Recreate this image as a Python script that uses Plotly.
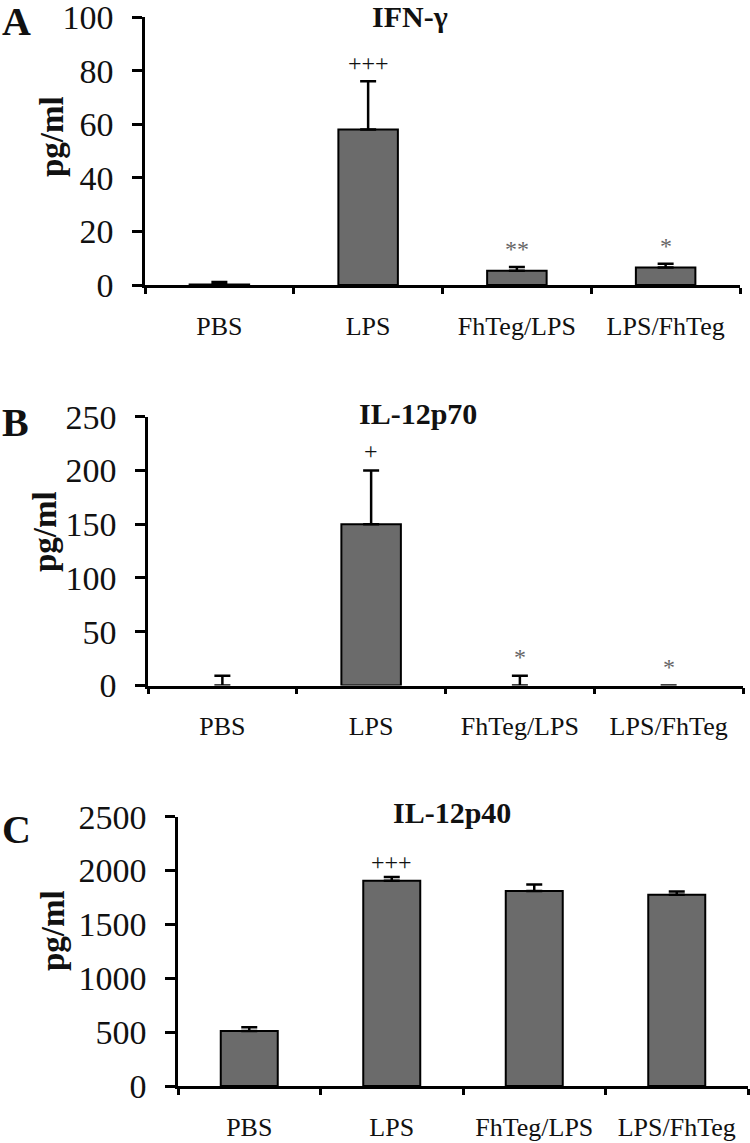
import plotly.graph_objects as go

# ---- data ----
CATEGORIES = ["PBS", "LPS", "FhTeg/LPS", "LPS/FhTeg"]

IFNG_MEAN = [0.2, 58.0, 5.3, 6.5]
IFNG_SEM = [0.9, 18.0, 1.4, 1.4]
IFNG_MARKS = ["", "+++", "**", "*"]
IFNG_TICKS = [0, 20, 40, 60, 80, 100]

P70_MEAN = [0.0, 150.0, 0.0, 0.0]
P70_SEM = [9.0, 50.0, 9.0, 0.0]
P70_MARKS = ["", "+", "*", "*"]
P70_TICKS = [0, 50, 100, 150, 200, 250]

P40_MEAN = [510.0, 1905.0, 1810.0, 1775.0]
P40_SEM = [35.0, 35.0, 60.0, 30.0]
P40_MARKS = ["", "+++", "", ""]
P40_TICKS = [0, 500, 1000, 1500, 2000, 2500]

# ---- style ----
W, H = 750, 1143
SERIF = "Liberation Serif, Times New Roman, serif"
INK = "#111111"
BAR_GREY = "#6b6b6b"
STAR_GREY = "#666666"

# pixel geometry of each panel: axis left/right, y of zero and of top tick
PANELS = [
    dict(letter="A", title="IFN-γ", mean=IFNG_MEAN, sem=IFNG_SEM, marks=IFNG_MARKS,
         ticks=IFNG_TICKS, x0=145, x1=740, y0=285, y1=17,
         title_xy=(410, 16), letter_y=22, ylab_xy=(52, 137), mark_shift=3),
    dict(letter="B", title="IL-12p70", mean=P70_MEAN, sem=P70_SEM, marks=P70_MARKS,
         ticks=P70_TICKS, x0=148, x1=743, y0=685.5, y1=416.7,
         title_xy=(418, 413), letter_y=422, ylab_xy=(45, 532), mark_shift=4),
    dict(letter="C", title="IL-12p40", mean=P40_MEAN, sem=P40_SEM, marks=P40_MARKS,
         ticks=P40_TICKS, x0=178, x1=748, y0=1086, y1=816.7,
         title_xy=(452, 812), letter_y=829, ylab_xy=(53, 931), mark_shift=0),
]


def px(x):
    return x / W


def py(y):
    return 1 - y / H


fig = go.Figure()
annotations = []

for i, p in enumerate(PANELS, start=1):
    xa, ya = f"x{i}", f"y{i}"
    # zero-height bars get no outline and zero errors no whisker,
    # so nothing shows above the axis line there
    outline = [2 if v else 0 for v in p["mean"]]
    whisker = [e if e else None for e in p["sem"]]
    fig.add_bar(
        x=CATEGORIES, y=p["mean"], xaxis=xa, yaxis=ya, width=0.4,
        marker={"color": BAR_GREY, "line": {"color": "black", "width": outline}},
        error_y={"type": "data", "array": whisker, "arrayminus": [0] * len(whisker),
                 "symmetric": False, "color": "black", "thickness": 2.5, "width": 8},
        hoverinfo="skip",
    )
    axis_common = dict(showline=True, linecolor="black", linewidth=2.5, showgrid=False,
                       zeroline=False, ticks="outside", tickcolor="black", tickwidth=2.5,
                       automargin=False, ticklabeloverflow="allow")
    fig.layout[f"xaxis{i}"] = dict(
        axis_common, anchor=ya, domain=[px(p["x0"]), px(p["x1"])], type="category",
        range=[-0.5, len(CATEGORIES) - 0.5], tickson="boundaries", ticklen=6,
        tickfont={"family": SERIF, "size": 26, "color": INK}, ticklabelstandoff=16,
    )
    fig.layout[f"yaxis{i}"] = dict(
        axis_common, anchor=xa, domain=[py(p["y0"]), py(p["y1"])],
        range=[0, p["ticks"][-1]], tickvals=p["ticks"], ticklen=10,
        tickfont={"family": SERIF, "size": 34, "color": INK}, ticklabelstandoff=12,
    )

    for cat, m, e, mark in zip(CATEGORIES, p["mean"], p["sem"], p["marks"]):
        if not mark:
            continue
        annotations.append(dict(
            x=cat, y=m + e, xref=xa, yref=ya, text=mark, showarrow=False,
            yanchor="bottom", yshift=p["mark_shift"],
            font={"family": SERIF, "size": 24,
                  "color": STAR_GREY if "*" in mark else INK},
        ))

    tx, ty = p["title_xy"]
    annotations.append(dict(
        x=px(tx), y=py(ty), xref="paper", yref="paper", text=f"<b>{p['title']}</b>",
        showarrow=False, xanchor="center", yanchor="middle",
        font={"family": SERIF, "size": 30, "color": INK},
    ))
    annotations.append(dict(
        x=0, y=py(p["letter_y"]), xref="paper", yref="paper", text=f"<b>{p['letter']}</b>",
        showarrow=False, xanchor="left", yanchor="middle",
        font={"family": SERIF, "size": 40, "color": INK},
    ))
    lx, ly = p["ylab_xy"]
    annotations.append(dict(
        x=px(lx), y=py(ly), xref="paper", yref="paper", text="<b>pg/ml</b>",
        showarrow=False, textangle=-90, xanchor="center", yanchor="middle",
        font={"family": SERIF, "size": 33, "color": INK},
    ))

fig.update_layout(
    width=W, height=H, margin={"l": 0, "r": 0, "t": 0, "b": 0, "autoexpand": False},
    paper_bgcolor="white", plot_bgcolor="white", showlegend=False,
    annotations=annotations, bargap=0.6,
)

# the page's default body margin would push the figure 8px in; drop it
fig.write_html("out.html", config={"displayModeBar": False},
               post_script="document.body.style.margin = '0';")
